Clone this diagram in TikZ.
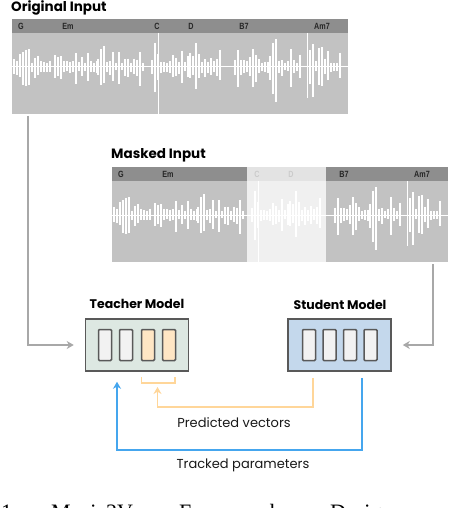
\documentclass[tikz,border=0pt]{standalone}
\usepackage{fontspec}
\setmainfont{Poppins}
\newfontfamily\capfont{Liberation Serif}
\newfontfamily\chordfont[FakeStretch=0.8]{Liberation Sans}
\usetikzlibrary{arrows.meta}
\definecolor{hdr}{HTML}{8E8E8E}
\definecolor{bdy}{HTML}{C2C2C2}
\definecolor{arrgray}{HTML}{A8A8A8}
\definecolor{tfill}{HTML}{DDE8E2}
\definecolor{sfill}{HTML}{C4D8EC}
\definecolor{cellfill}{HTML}{F2F2F2}
\definecolor{orfill}{HTML}{FFE6C4}
\definecolor{orline}{HTML}{FFD699}
\definecolor{blueline}{HTML}{45A6EE}
\definecolor{bordercol}{HTML}{595959}
\newcommand{\mywave}{%
  \pgfmathsetseed{42}%
  \draw[white,line width=1pt] (12,67) -- (348,67);
  \foreach \s/\e/\p/\d/\f in {14/50/33/22/0.3, 55/98/36/30/0.35, 98/143/24/40/0.45, 152/190/28/30/0.35, 190/222/32/30/0.3, 235/270/36/30/0.35, 270/302/33/25/0.25, 310/342/25/40/0.4}{
    \pgfmathtruncatemacro{\n}{(\e-\s)/3}
    \foreach \i in {0,...,\n}{
      \pgfmathsetmacro{\xx}{\s+3*\i}
      \pgfmathsetmacro{\r}{rnd}
      \pgfmathsetmacro{\a}{\p*(\f+(1-\f)*exp(-(\xx-\s)/\d))*(0.2+0.8*\r*\r)}
      \pgfmathsetmacro{\b}{\a*(0.7+0.6*rnd)}
      \draw[white,line width=1.1pt] (\xx,67-\a) -- (\xx,67+\b);
    }
  }
  \draw[white,line width=1pt] (158,33) -- (158,114);
  \draw[white,line width=1pt] (307,33) -- (307,98);
  \foreach \c/\cx in {G/21, Em/68, C/157, D/191, B7/244, Am7/322}{
    \node[chord] at (\cx,26.5) {\c};
  }
}
\begin{document}
\begin{tikzpicture}[x=1pt,y=-1pt,
  title/.style={font=\fontsize{12.5}{14}\selectfont\bfseries, text=black, inner sep=0},
  label/.style={font=\fontsize{13}{15}\selectfont, text=black!90, inner sep=0},
  chord/.style={font=\chordfont\fontsize{9}{10}\selectfont\bfseries, text=black!85, inner sep=0},
  modelbox/.style={draw=bordercol, line width=1.6pt, minimum width=103pt, minimum height=52pt, inner sep=0},
  cell/.style={draw=bordercol, line width=1.5pt, rounded corners=1pt, minimum width=13pt, minimum height=31pt, inner sep=0, fill=cellfill},
  grayarrow/.style={draw=arrgray, line width=1.6pt, -{Stealth[length=7pt,width=8pt]}},
  orarrow/.style={draw=orline, line width=1.6pt, -{Stealth[length=7pt,width=8pt]}},
  bluearrow/.style={draw=blueline, line width=1.8pt, -{Stealth[length=7pt,width=8pt]}},
  capt/.style={font=\capfont\fontsize{22}{26}\selectfont, inner sep=0, anchor=base west}
]
\useasboundingbox (0,0) rectangle (470,508);
\clip (0,0) rectangle (470,508);
\fill[white] (0,0) rectangle (470,508);

% Original input
\node[title, anchor=west, font=\fontsize{13.5}{15}\selectfont\bfseries] (origt) at (11,7.5) {Original Input};
\node[fill=bdy, minimum width=336pt, minimum height=95pt, inner sep=0, anchor=north west] (orig) at (12,19) {};
\fill[hdr] (12,19) rectangle (348,33);
\mywave

% Masked input
\node[title, anchor=west, font=\fontsize{13.5}{15}\selectfont\bfseries] (maskt) at (111,155.5) {Masked Input};
\node[fill=bdy, minimum width=336pt, minimum height=95pt, inner sep=0, anchor=north west] (masked) at (112,167) {};
\begin{scope}[shift={(100,148)}]
  \fill[hdr] (12,19) rectangle (348,33);
  \mywave
  \fill[white, opacity=0.76] (147,19) rectangle (226,114);
\end{scope}

% Models
\node[title] (teachert) at (137,304) {Teacher Model};
\node[modelbox, fill=tfill] (teacher) at (137,345) {};
\node[cell] (tc1) at (105,345) {};
\node[cell] (tc2) at (126,345) {};
\node[cell, fill=orfill] (tc3) at (148,345) {};
\node[cell, fill=orfill] (tc4) at (169,345) {};

\node[title] (studentt) at (340,305) {Student Model};
\node[modelbox, fill=sfill] (student) at (339.5,345) {};
\node[cell] (sc1) at (309,345) {};
\node[cell] (sc2) at (329.5,345) {};
\node[cell] (sc3) at (350,345) {};
\node[cell] (sc4) at (370.5,345) {};

% gray input arrows
\coordinate (origout) at (28,116);
\draw[grayarrow, shorten >=11pt] (origout) |- (teacher.west);
\coordinate (maskout) at (433,264);
\draw[grayarrow, shorten >=11pt] (maskout) |- (student.east);

% orange bracket and arrow
\draw[orline, line width=1.6pt] (141.5,377) -- (141.5,383) -- (175,383) -- (175,377);
\coordinate (brk) at (157.5,383);
\draw[orarrow, shorten >=4pt] ([xshift=-26.5pt,yshift=-6pt]student.south) -- ++(0,29) -| (brk);
\node[label] (predl) at (234,423) {Predicted vectors};

% blue arrow
\draw[bluearrow, shorten >=10pt] ([xshift=22.5pt,yshift=-6pt]student.south) -- ++(0,72) -| ([xshift=-20pt]teacher.south);
\node[label] (trackl) at (243,465) {Tracked parameters};

% cut-off caption
\node[capt] (cap1) at (1,519) {1:};
\node[capt] (cap2) at (51,519) {Music2Vec};
\node[capt] (cap3) at (179,519) {Framework.};
\node[capt] (cap4) at (330,519) {Design};
\end{tikzpicture}
\end{document}
